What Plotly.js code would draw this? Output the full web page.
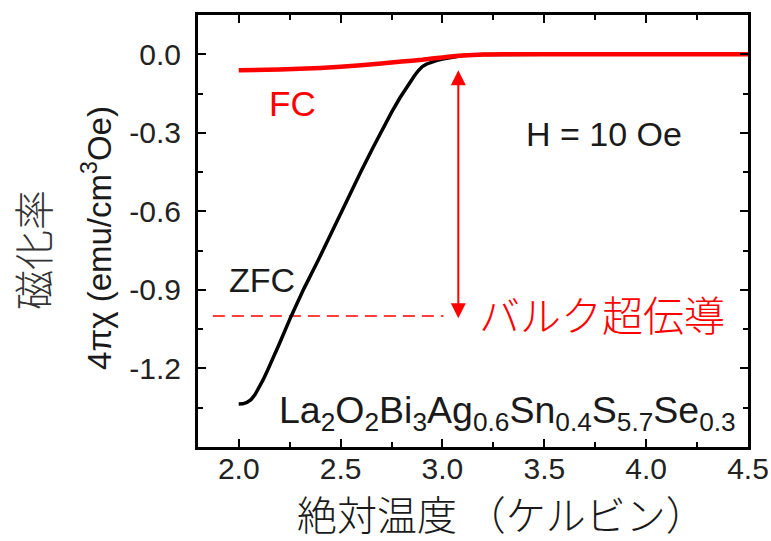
<!DOCTYPE html>
<html>
<head>
<meta charset="utf-8">
<script src="https://cdn.plot.ly/plotly-3.0.1.min.js"></script>
<style>html,body{margin:0;padding:0;background:#fff;}#chart{width:771px;height:541px;}</style>
</head>
<body>
<div id="chart"></div>
<script>
// ZFC curve (black)
var zfcX = [2.0, 2.02, 2.04, 2.06, 2.08, 2.1, 2.12, 2.14, 2.16, 2.2, 2.255, 2.32, 2.39, 2.46, 2.53, 2.6, 2.66, 2.71, 2.75, 2.79, 2.83, 2.86, 2.88, 2.9, 2.92, 2.94, 2.97, 3.0, 3.05, 3.1, 3.2, 3.3, 3.5, 4.0, 4.5];
var zfcY = [-1.336, -1.335, -1.330, -1.319, -1.300, -1.274, -1.243, -1.21, -1.176, -1.105, -1.004, -0.895, -0.787, -0.672, -0.558, -0.448, -0.355, -0.279, -0.222, -0.168, -0.118, -0.085, -0.064, -0.048, -0.038, -0.031, -0.024, -0.018, -0.010, -0.005, -0.001, 0, 0, 0, 0];
// FC curve (red)
var fcX = [2.0, 2.2, 2.4, 2.6, 2.8, 2.9, 3.0, 3.1, 3.2, 3.3, 3.5, 4.0, 4.5];
var fcY = [-0.061, -0.058, -0.052, -0.042, -0.028, -0.021, -0.012, -0.005, -0.001, 0, 0, 0, 0];
// bulk superconductivity level
var bulkX = [1.873, 3.005];
var bulkY = [-1.0, -1.0];
// arrow endpoints
var arrowX = 3.078;
var arrowTopY = -0.055;
var arrowBottomY = -1.008;
// ticks
var xTickVals = [2.0, 2.5, 3.0, 3.5, 4.0, 4.5];
var xTickText = ["2.0", "2.5", "3.0", "3.5", "4.0", "4.5"];
var yTickVals = [0, -0.3, -0.6, -0.9, -1.2];
var yTickText = ["0.0", "-0.3", "-0.6", "-0.9", "-1.2"];

var LAT = "Liberation Sans, Arial, sans-serif";
var JP = "Noto Sans CJK JP, sans-serif";
var TXT = "#1a1a1a";
var RED = "#ff0000";

var traces = [
  {x: bulkX, y: bulkY, mode: "lines", line: {color: RED, width: 1.5, dash: "12px,7px"}, hoverinfo: "skip"},
  {x: zfcX, y: zfcY, mode: "lines", line: {color: "#000", width: 3.5}, hoverinfo: "skip"},
  {x: fcX, y: fcY, mode: "lines", line: {color: RED, width: 4.5, shape: "spline", smoothing: 0.5}, hoverinfo: "skip"}
];

var axisCommon = {
  showgrid: false, zeroline: false, showline: true, linecolor: "#000", linewidth: 3,
  mirror: "ticks", ticks: "inside", ticklen: 8, tickwidth: 2, tickcolor: "#000",
  tickfont: {family: LAT, size: 30, color: "#222"}
};

function ann(o) {
  return Object.assign({showarrow: false, xanchor: "center", yanchor: "middle"}, o);
}

var layout = {
  width: 771, height: 541,
  margin: {l: 198, r: 23, t: 15, b: 94},
  paper_bgcolor: "#fff", plot_bgcolor: "#fff",
  showlegend: false,
  xaxis: Object.assign({}, axisCommon, {
    range: [1.8, 4.5], tickmode: "array", tickvals: xTickVals, ticktext: xTickText,
    ticklabelstandoff: -7,
    minor: {dtick: 0.25, tick0: 0, ticks: "inside", ticklen: 5, tickwidth: 2, tickcolor: "#000"}
  }),
  yaxis: Object.assign({}, axisCommon, {
    range: [-1.5, 0.15], tickmode: "array", tickvals: yTickVals, ticktext: yTickText,
    ticklabelstandoff: 8,
    minor: {dtick: 0.15, tick0: 0, ticks: "inside", ticklen: 5, tickwidth: 2, tickcolor: "#000"}
  }),
  annotations: [
    {xref: "x", yref: "y", x: arrowX, y: arrowBottomY, axref: "x", ayref: "y", ax: arrowX, ay: arrowTopY,
     text: "", showarrow: true, arrowside: "end+start", arrowhead: 2, startarrowhead: 2,
     arrowsize: 1.5, startarrowsize: 1.5, arrowwidth: 2, arrowcolor: RED, standoff: 0, startstandoff: 0},
    ann({xref: "x", yref: "y", x: 2.265, y: -0.189, text: "FC",
     font: {family: LAT, size: 35, color: RED}}),
    ann({xref: "x", yref: "y", x: 2.113, y: -0.863, text: "ZFC",
     font: {family: LAT, size: 34, color: TXT}}),
    ann({xref: "x", yref: "y", x: 3.794, y: -0.303, text: "H = 10 Oe",
     font: {family: LAT, size: 34, color: TXT}}),
    ann({xref: "x", yref: "y", x: 3.784, y: -0.989, text: "バルク超伝導",
     font: {family: JP, size: 41, color: RED, weight: 300}}),
    ann({xref: "x", yref: "y", x: 3.32, y: -1.37,
     text: "La<sub>2</sub>O<sub>2</sub>Bi<sub>3</sub>Ag<sub>0.6</sub>Sn<sub>0.4</sub>S<sub>5.7</sub>Se<sub>0.3</sub>",
     font: {family: LAT, size: 37.5, color: TXT}}),
    ann({xref: "paper", yref: "paper", x: 0.552, y: -0.152, text: "絶対温度 （ケルビン）",
     font: {family: JP, size: 40, color: TXT, weight: 300}}),
    ann({xref: "paper", yref: "paper", x: -0.302, y: 0.456, text: "磁化率", textangle: -90,
     font: {family: JP, size: 40, color: "#333", weight: 300}}),
    ann({xref: "paper", yref: "paper", x: -0.1836, y: 0.484, text: "4πχ (emu/cm<sup>3</sup>Oe)", textangle: -90,
     font: {family: LAT, size: 33, color: TXT}})
  ]
};

Plotly.newPlot("chart", traces, layout, {staticPlot: true, displayModeBar: false});
</script>
</body>
</html>
